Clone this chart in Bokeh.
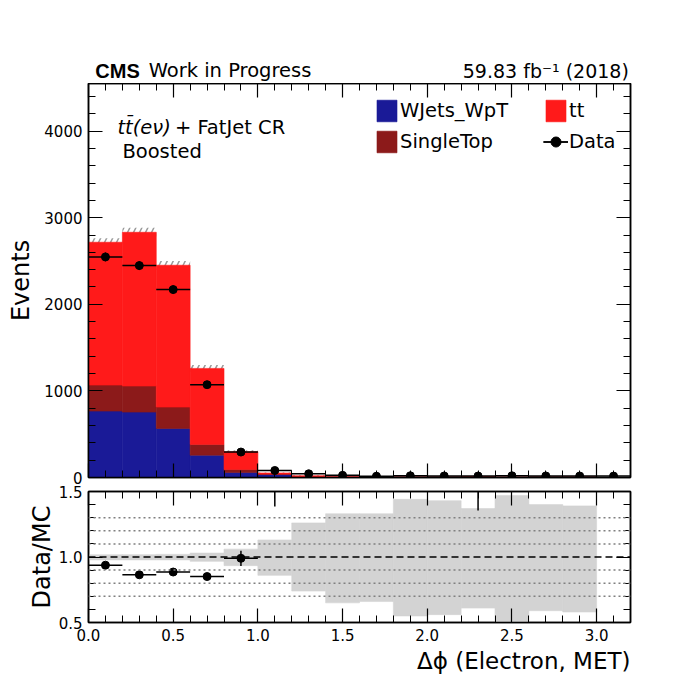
import numpy as np
from bokeh.embed import file_html
from bokeh.layouts import column
from bokeh.models import (CustomLabelingPolicy, FixedTicker, Label, Legend, LegendItem,
                          LinearAxis, NumeralTickFormatter, Range1d, Span)
from bokeh.plotting import figure
from bokeh.resources import INLINE

# delta phi binning (16 bins of 0.2)
edges = [0.0, 0.2, 0.4, 0.6, 0.8, 1.0, 1.2, 1.4, 1.6, 1.8, 2.0, 2.2, 2.4, 2.6, 2.8, 3.0, 3.2]

# stacked MC yields per bin
wjets = [767, 755, 566, 258, 58, 34, 6, 3, 2, 2, 2, 4, 1, 2, 2, 0]
singletop = [300, 301, 247, 124, 34, 5, 4, 1, 1, 1, 1, 1.5, 1, 1, 1, 0]
ttbar = [1650, 1776, 1638, 878, 205, 13, 10, 4, 3, 2, 2, 4, 2, 2, 2, 0]
data = [2547, 2447, 2170, 1072, 294, 81, 43, 25, 15, 20, 18, 17, 20, 18, 17, 16]

# relative MC stat uncertainty (up / down)
mc_unc_up = [0.017, 0.018, 0.020, 0.030, 0.060, 0.13, 0.26, 0.33, 0.33, 0.44, 0.43, 0.37, 0.47, 0.40, 0.39, 0.0]
mc_unc_dn = [0.022, 0.022, 0.022, 0.033, 0.066, 0.14, 0.26, 0.35, 0.34, 0.45, 0.44, 0.39, 0.49, 0.41, 0.42, 0.0]

x_major = [0.0, 0.5, 1.0, 1.5, 2.0, 2.5, 3.0]
y_major = [0, 1000, 2000, 3000, 4000]
ratio_major = [0.5, 1.0, 1.5]
ratio_grid = [0.7, 0.8, 0.9, 1.1, 1.2, 1.3]

C_WJ = "#1a1a97"
C_ST = "#8c1a1a"
C_TT = "#ff1a1a"
FONT = "DejaVu Sans"

lo = np.array(edges[:-1])
hi = np.array(edges[1:])
mid = (lo + hi) / 2
wj = np.array(wjets, dtype=float)
st = np.array(singletop, dtype=float)
tt = np.array(ttbar, dtype=float)
dat = np.array(data, dtype=float)
total = wj + st + tt
up = np.array(mc_unc_up)
dn = np.array(mc_unc_dn)
derr = np.sqrt(dat)
has_mc = total > 0
ratio = np.where(has_mc, dat / np.where(has_mc, total, 1), np.nan)
rerr = np.where(has_mc, derr / np.where(has_mc, total, 1), np.nan)

x_minor = list(np.round(np.arange(0.0, 3.21, 0.1), 2))
y_minor = list(range(0, 4600, 200))
ratio_minor = list(np.round(np.arange(0.5, 1.51, 0.1), 2))

x_range = Range1d(0, 3.2)

NO_LABELS = """
for (const i of indices)
    indices.unset(i)
return indices
"""


def new_axis(ticker, show_labels):
    ax = LinearAxis(ticker=ticker)
    ax.major_tick_in = 14
    ax.major_tick_out = 0
    ax.minor_tick_in = 7
    ax.minor_tick_out = 0
    ax.axis_line_color = "black"
    ax.axis_line_width = 1.5
    ax.major_tick_line_color = "black"
    ax.major_tick_line_width = 1.2
    ax.minor_tick_line_color = "black"
    ax.minor_tick_line_width = 1
    ax.major_label_text_font = FONT
    ax.major_label_text_color = "black"
    ax.major_label_text_font_size = "15px"
    ax.major_label_standoff = 6
    ax.axis_label_text_font = FONT
    ax.axis_label_text_font_size = "24px"
    ax.axis_label_text_font_style = "normal"
    ax.axis_label_text_color = "black"
    if not show_labels:
        ax.major_label_policy = CustomLabelingPolicy(code=NO_LABELS)
        ax.major_label_text_font_size = "0px"
        ax.major_label_standoff = 0
        ax.axis_label_standoff = 0
    return ax


def make_fig(y_range, frame_h, b_top, b_bottom, xt, yt, x_labels):
    p = figure(x_range=x_range, y_range=y_range, frame_width=542, frame_height=frame_h,
               min_border_left=88, min_border_right=40, min_border_top=b_top,
               min_border_bottom=b_bottom, x_axis_location=None, y_axis_location=None,
               output_backend="svg", toolbar_location=None)
    p.grid.visible = False
    p.outline_line_color = "black"
    p.outline_line_width = 1.5
    bottom = new_axis(xt, x_labels)
    left = new_axis(yt, True)
    p.add_layout(bottom, "below")
    p.add_layout(left, "left")
    p.add_layout(new_axis(xt, False), "above")
    p.add_layout(new_axis(yt, False), "right")
    return p, bottom, left


def text_strip(height):
    s = figure(x_range=x_range, y_range=Range1d(0, height), frame_width=542, frame_height=height,
               min_border_left=88, min_border_right=40, min_border_top=0, min_border_bottom=0,
               x_axis_location=None, y_axis_location=None, output_backend="svg",
               toolbar_location=None)
    s.grid.visible = False
    s.outline_line_color = None
    return s


# ---- header with CMS label and luminosity ----
head = text_strip(83)
head.add_layout(Label(x=0.04, y=13, text="CMS", text_font="Liberation Sans", text_font_style="bold",
                      text_font_size="20px", text_color="black", text_baseline="alphabetic"))
head.add_layout(Label(x=0.355, y=13, text="Work in Progress", text_font=FONT,
                      text_font_size="19.5px", text_color="black", text_baseline="alphabetic"))
head.add_layout(Label(x=3.19, y=13, text="59.83 fb\u207b\u00b9 (2018)", text_font=FONT,
                      text_font_size="19px", text_color="black", text_align="right",
                      text_baseline="alphabetic"))

# ---- main panel ----
p, _, p_left = make_fig(Range1d(0, 4550), 394, 0, 7,
                        FixedTicker(ticks=x_major, minor_ticks=x_minor),
                        FixedTicker(ticks=y_major, minor_ticks=y_minor), False)
p_left.axis_label = "Events"
p_left.axis_label_standoff = 6

# MC uncertainty hatch (drawn first so the stack covers its lower half)
p.quad(left=lo[has_mc], right=hi[has_mc], bottom=(total * (1 - dn))[has_mc],
       top=(total * (1 + up))[has_mc], fill_alpha=0, line_alpha=0,
       hatch_pattern="/", hatch_color="#999999", hatch_scale=12, hatch_weight=1.5)

r_wj = p.quad(left=lo, right=hi, bottom=0, top=wj, fill_color=C_WJ, line_color=C_WJ, line_width=0.6)
r_st = p.quad(left=lo, right=hi, bottom=wj, top=wj + st, fill_color=C_ST, line_color=C_ST, line_width=0.6)
r_tt = p.quad(left=lo, right=hi, bottom=wj + st, top=total, fill_color=C_TT, line_color=C_TT, line_width=0.6)

r_dh = p.segment(x0=lo, y0=dat, x1=hi, y1=dat, line_color="black", line_width=1.5)
r_dv = p.segment(x0=mid, y0=dat - derr, x1=mid, y1=dat + derr, line_color="black", line_width=1.5)
r_dp = p.scatter(mid, dat, marker="circle", size=8, color="black")

leg_a = Legend(items=[LegendItem(label="WJets_WpT", renderers=[r_wj]),
                      LegendItem(label="SingleTop", renderers=[r_st])],
               location=(286, 322))
leg_b = Legend(items=[LegendItem(label="tt", renderers=[r_tt]),
                      LegendItem(label="Data", renderers=[r_dh, r_dv, r_dp])],
               location=(455, 322))
for leg in (leg_a, leg_b):
    leg.border_line_alpha = 0
    leg.background_fill_alpha = 0
    leg.padding = 0
    leg.margin = 0
    leg.spacing = 4
    leg.glyph_width = 25
    leg.glyph_height = 27
    leg.label_height = 27
    leg.label_standoff = 1
    leg.label_text_font = FONT
    leg.label_text_font_size = "19.5px"
    leg.label_text_color = "black"
    p.add_layout(leg)

p.add_layout(Label(x=0.171, y=4042, text="tt\u0304(e\u03bd)", text_font=FONT,
                   text_font_style="italic", text_font_size="19.5px", text_color="black",
                   text_baseline="alphabetic"))
p.add_layout(Label(x=0.51, y=4042, text="+ FatJet CR", text_font=FONT,
                   text_font_size="19.5px", text_color="black", text_baseline="alphabetic"))
p.add_layout(Label(x=0.20, y=3765, text="Boosted", text_font=FONT,
                   text_font_size="19.5px", text_color="black", text_baseline="alphabetic"))

# ---- ratio panel ----
q, q_bottom, q_left = make_fig(Range1d(0.5, 1.5), 131, 7, 26,
                               FixedTicker(ticks=x_major, minor_ticks=x_minor),
                               FixedTicker(ticks=ratio_major, minor_ticks=ratio_minor), True)
q_bottom.formatter = NumeralTickFormatter(format="0.0")
q_left.formatter = NumeralTickFormatter(format="0.0")
q_left.axis_label = "Data/MC"
q_left.axis_label_standoff = 0

q.quad(left=lo[has_mc], right=hi[has_mc], bottom=(1 - dn)[has_mc], top=(1 + up)[has_mc],
       fill_color="#d3d3d3", line_color="#d3d3d3", line_width=0.6)
for g in ratio_grid:
    q.add_layout(Span(location=g, dimension="width", line_color="#808080",
                      line_width=1.5, line_dash="2 3"))
q.add_layout(Span(location=1.0, dimension="width", line_color="black",
                  line_width=1.5, line_dash="7 4"))

q.segment(x0=lo, y0=ratio, x1=hi, y1=ratio, line_color="black", line_width=1.5)
q.segment(x0=mid, y0=ratio - rerr, x1=mid, y1=ratio + rerr, line_color="black", line_width=1.5)
q.scatter(mid, ratio, marker="circle", size=8, color="black")

# ---- footer with the x-axis title, right aligned ----
foot = text_strip(34)
foot.add_layout(Label(x=3.2, y=22, text="\u0394\u03d5 (Electron, MET)", text_font=FONT,
                      text_font_size="23px", text_color="black", text_align="right",
                      text_baseline="alphabetic"))

layout = column(head, p, q, foot)
open("out.html", "w").write(file_html(layout, INLINE))
